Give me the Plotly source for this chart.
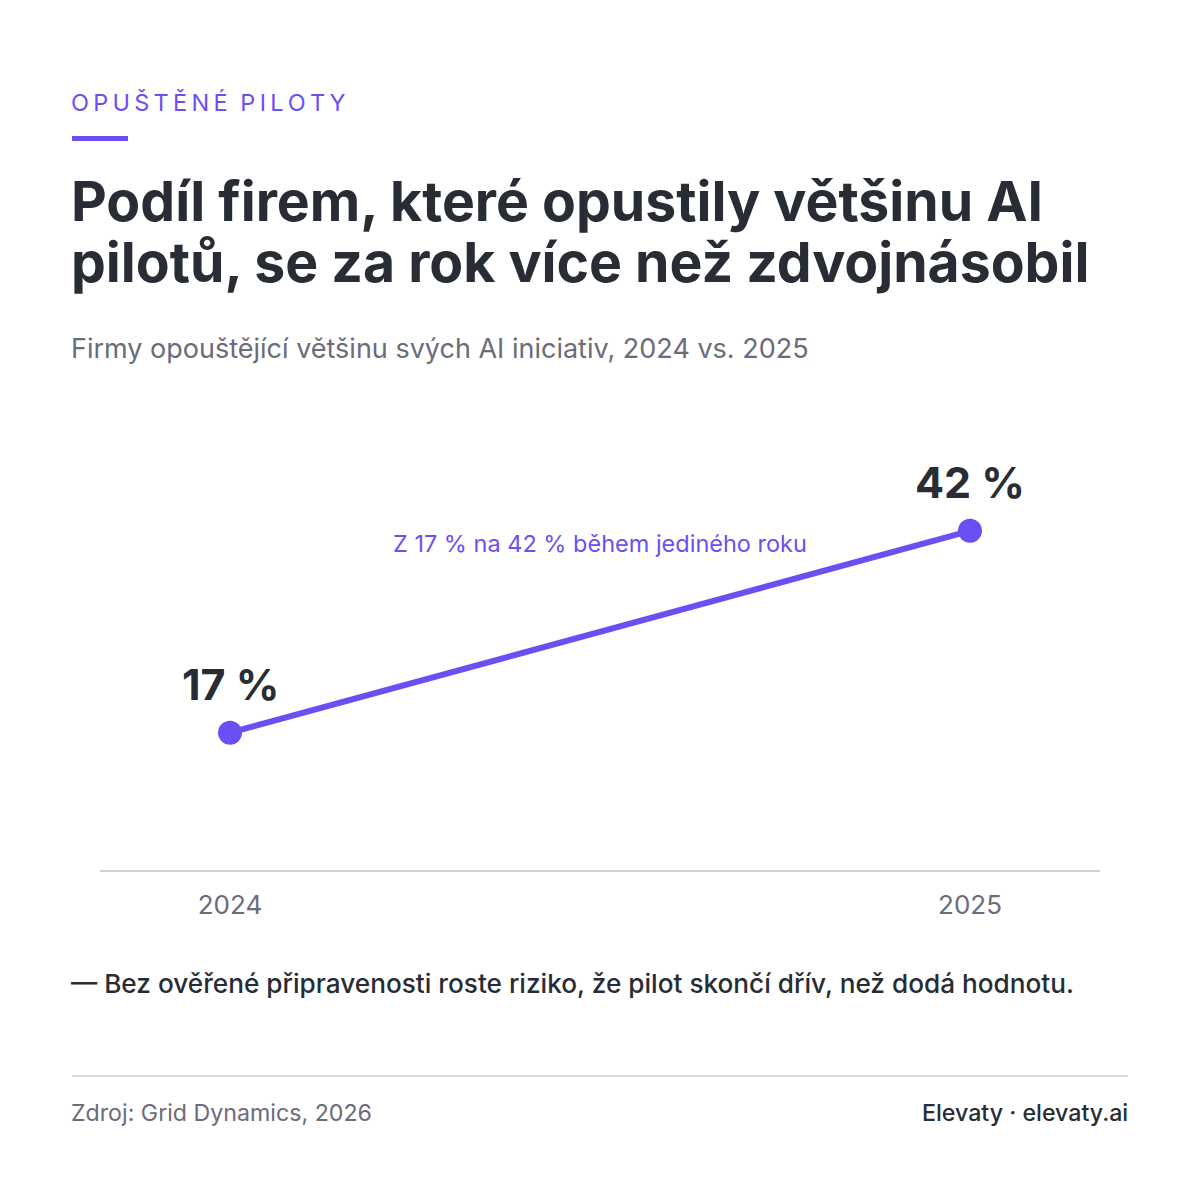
import plotly.graph_objects as go

# ---- data ----
years = ["2024", "2025"]
share_pct = [17, 42]
value_labels = ["17 %", "42 %"]

kicker = "OPUŠTĚNÉ PILOTY"
title_lines = ["Podíl firem, které opustily většinu AI", "pilotů, se za rok více než zdvojnásobil"]
subtitle = "Firmy opouštějící většinu svých AI iniciativ, 2024 vs. 2025"
callout = "Z 17 % na 42 % během jediného roku"
note = "— Bez ověřené připravenosti roste riziko, že pilot skončí dřív, než dodá hodnotu."
source = "Zdroj: Grid Dynamics, 2026"
brand = "Elevaty · elevaty.ai"

PURPLE = "#6C4EF5"
DARK = "#272C35"
GRAY = "#6B6B7A"
LIGHT = "#CFCFD6"
FONT = "Inter, Noto Sans, sans-serif"

OFF = 8  # page body offset
W = H = 1200
ML, MT = 100 - OFF, 400 - OFF
PW, PH = 1000, 470
MR = W - ML - PW
MB = H - MT - PH


def px(x):
    return (x - OFF - ML) / PW


def py(y):
    return (MT + PH - (y - OFF)) / PH


xs = list(range(len(years)))

fig = go.Figure()
fig.add_trace(go.Scatter(
    x=xs, y=share_pct, mode="lines+markers",
    line=dict(color=PURPLE, width=6),
    marker=dict(color=PURPLE, size=24),
    hoverinfo="skip", showlegend=False,
))

annotations = []
for x, y, lab in zip(xs, share_pct, value_labels):
    annotations.append(dict(
        x=x, y=y, xref="x", yref="y", text=f"<b>{lab}</b>", showarrow=False,
        xanchor="center", yanchor="middle", yshift=49,
        font=dict(family=FONT, size=43, color=DARK),
    ))

spaced_kicker = "\u2009".join(list(kicker)).replace("\u2009 \u2009", "\u2009\u2009\u2009")


def text(xp, yp, s, size, color, xanchor="left", bold=False, weight=None, xshift=0):
    f = dict(family=FONT, size=size, color=color)
    if weight:
        f["weight"] = weight
    annotations.append(dict(
        x=px(xp), y=py(yp), xref="paper", yref="paper", xshift=xshift,
        text=(f"<b>{s}</b>" if bold else s), showarrow=False,
        xanchor=xanchor, yanchor="middle", align="left", font=f,
    ))


text(72, 103, spaced_kicker, 23.5, PURPLE, xshift=-3)
text(72, 200, title_lines[0], 55.3, DARK, bold=True, xshift=-3)
text(72, 261, title_lines[1], 55.3, DARK, bold=True, xshift=-3)
text(72, 349, subtitle, 27, GRAY, xshift=-3)
text(600, 543, callout, 23.5, PURPLE, xanchor="center")
text(72, 983, note, 26.2, DARK, weight=500, xshift=-3)
text(72, 1113, source, 23.2, GRAY, xshift=-3)
text(1128, 1113, brand, 23.2, DARK, xanchor="right", weight=500, xshift=2)

shapes = [
    dict(type="rect", xref="paper", yref="paper", x0=px(72), x1=px(128),
         y0=py(141), y1=py(136), fillcolor=PURPLE, line=dict(width=0)),
    dict(type="line", xref="paper", yref="paper", x0=px(72), x1=px(1128),
         y0=py(1076), y1=py(1076), line=dict(color=LIGHT, width=1.5)),
]

fig.update_layout(
    width=W, height=H,
    margin=dict(l=ML, r=MR, t=MT, b=MB),
    paper_bgcolor="white", plot_bgcolor="white",
    annotations=annotations, shapes=shapes,
    xaxis=dict(
        range=[-0.1757, 1.1757], tickvals=xs, ticktext=years,
        showgrid=False, zeroline=False, showline=True, linecolor=LIGHT, linewidth=1.5,
        ticks="outside", ticklen=11, tickcolor="rgba(0,0,0,0)",
        tickfont=dict(family=FONT, size=26, color=GRAY),
    ),
    yaxis=dict(range=[0, 58.2], visible=False, showgrid=False, zeroline=False),
)

fig.write_html("out.html")
